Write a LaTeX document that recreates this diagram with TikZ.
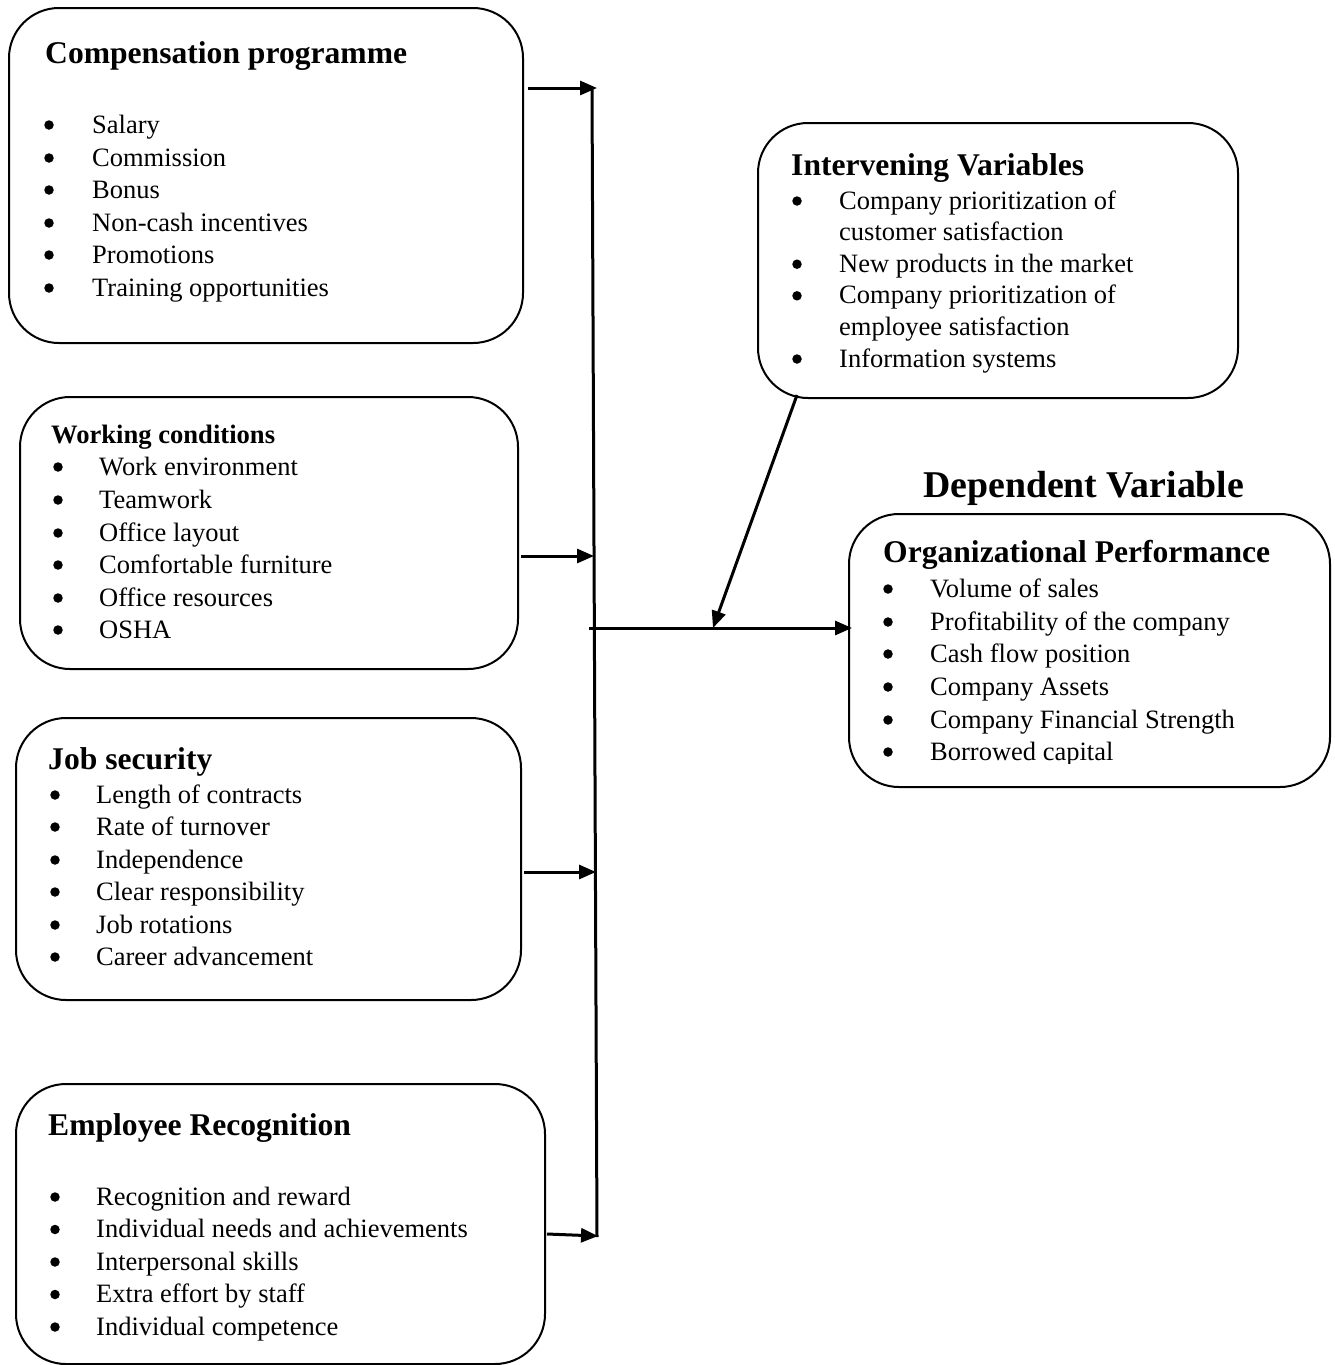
\documentclass[tikz,border=0pt]{standalone}
\usepackage{fontspec}
\setmainfont{Liberation Serif}
\usetikzlibrary{arrows.meta,calc}
\tikzset{
  box/.style={draw, line width=2pt, rounded corners=50pt, anchor=north west, inner sep=0pt},
  ttl/.style={anchor=base west, inner sep=0pt, font=\fontsize{31.6}{36}\selectfont\bfseries},
  ttlsmall/.style={anchor=base west, inner sep=0pt, font=\fontsize{26.6}{32}\selectfont\bfseries},
  itm/.style={anchor=base west, inner sep=0pt, font=\fontsize{26.5}{32}\selectfont},
  bul/.style={circle, fill, inner sep=0pt, minimum size=9.5pt},
  arr/.style={line width=3pt, -{Triangle[length=17pt,width=14pt]}},
  trunk/.style={line width=3pt}
}
\begin{document}
\begin{tikzpicture}[x=1pt,y=-1pt]
\useasboundingbox (0,0) rectangle (1334,1365);

% ---------- boxes ----------
\node[box, minimum width=514pt, minimum height=335pt] (b1) at (8,7) {};
\node[box, minimum width=498pt, minimum height=272pt] (b2) at (19,396) {};
\node[box, minimum width=505pt, minimum height=282pt] (b3) at (15,717) {};
\node[box, minimum width=529pt, minimum height=280pt] (b4) at (15,1083) {};
\node[box, minimum width=480pt, minimum height=275pt] (b5) at (757,122) {};
\node[box, minimum width=481pt, minimum height=273pt] (b6) at (848,513) {};

% ---------- box 1 ----------
\node[ttl] (t1) at (45,63) {Compensation programme};
\foreach \y/\t [count=\i] in {133/Salary,166/Commission,198/Bonus,231/Non-cash incentives,263/Promotions,296/Training opportunities}{
  \node[bul] (d1\i) at (49,\y-8) {};
  \node[itm] (i1\i) at (92,\y) {\t};
}

% ---------- box 2 ----------
\node[ttlsmall] (t2) at (51,443) {Working conditions};
\foreach \y/\t [count=\i] in {475/Work environment,508/Teamwork,541/Office layout,573/Comfortable furniture,606/Office resources,638/OSHA}{
  \node[bul] (d2\i) at (58,\y-8) {};
  \node[itm] (i2\i) at (99,\y) {\t};
}

% ---------- box 3 ----------
\node[ttl] (t3) at (48,769) {Job security};
\foreach \y/\t [count=\i] in {803/Length of contracts,835/Rate of turnover,868/Independence,900/Clear responsibility,933/Job rotations,965/Career advancement}{
  \node[bul] (d3\i) at (55,\y-8) {};
  \node[itm] (i3\i) at (96,\y) {\t};
}

% ---------- box 4 ----------
\node[ttl] (t4) at (48,1135) {Employee Recognition};
\foreach \y/\t [count=\i] in {1205/Recognition and reward,1237.5/Individual needs and achievements,1270/Interpersonal skills,1302.5/Extra effort by staff,1335/Individual competence}{
  \node[bul] (d4\i) at (55,\y-8) {};
  \node[itm] (i4\i) at (96,\y) {\t};
}

% ---------- box 5 ----------
\node[ttl] (t5) at (791,175) {Intervening Variables};
\foreach \y [count=\i] in {209,272.2,303.8,367}{
  \node[bul] (d5\i) at (797,\y-8) {};
}
\node[itm] (i51) at (839,209) {Company prioritization of};
\node[itm] (i52) at (839,240.6) {customer satisfaction};
\node[itm] (i53) at (839,272.2) {New products in the market};
\node[itm] (i54) at (839,303.8) {Company prioritization of};
\node[itm] (i55) at (839,335.4) {employee satisfaction};
\node[itm] (i56) at (839,367) {Information systems};

% ---------- box 6 ----------
\node[anchor=base west, inner sep=0pt, font=\fontsize{37.8}{42}\selectfont\bfseries] (dep) at (923,497) {Dependent Variable};
\node[ttl] (t6) at (883,562) {Organizational Performance};
\begin{scope}
\clip (0,0) rectangle (1334,763);
\foreach \y/\t [count=\i] in {597/Volume of sales,630/Profitability of the company,662/Cash flow position,695/Company Assets,728/Company Financial Strength,760/Borrowed capital}{
  \node[bul] (d6\i) at (888,\y-8) {};
  \node[itm] (i6\i) at (930,\y) {\t};
}
\end{scope}

% ---------- connectors ----------
\coordinate (ttop) at (592,88);
\coordinate (tbot) at (597,1237);
\coordinate (j1) at (597,88);
\coordinate (j2) at (594,556);
\coordinate (j3) at (596,872);
\coordinate (j4) at (598,1236);
\coordinate (jout) at (589,628);
\coordinate (dstart) at (797,395);
\coordinate (dtip) at (713,628);

\draw[trunk] (ttop) -- (tbot);
\draw[arr] ($(b1.east |- j1)+(4,0)$) -- (j1);
\draw[arr] ($(b2.east |- j2)+(2,0)$) -- (j2);
\draw[arr] ($(b3.east |- j3)+(2,0)$) -- (j3);
\draw[arr] ($(b4.east |- j4)+(1,-2)$) -- (j4);
\draw[arr] (jout) -- ($(b6.west |- jout)+(4,0)$);
\draw[arr] (dstart) -- (dtip);
\end{tikzpicture}
\end{document}
